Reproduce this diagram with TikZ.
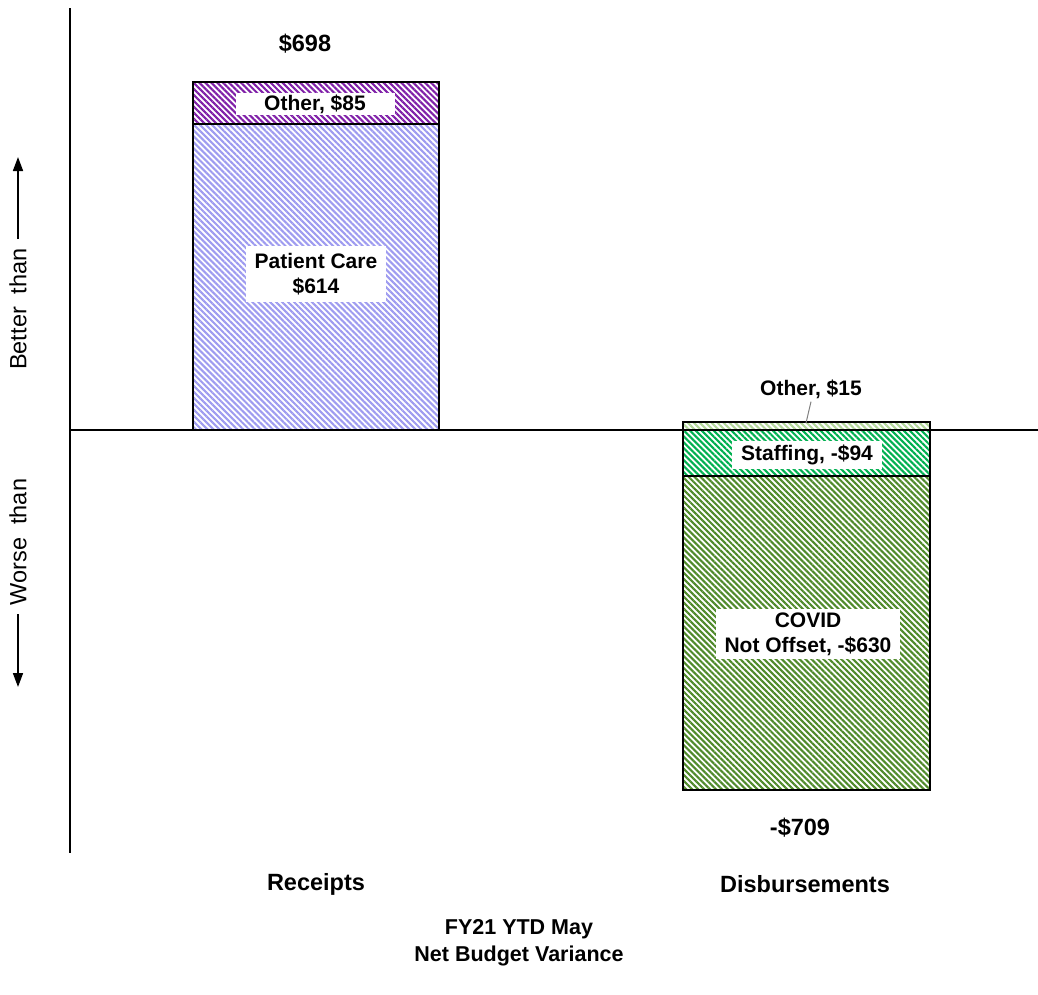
\documentclass[tikz,border=0pt]{standalone}
\usepackage{fontspec}
\setmainfont{Liberation Sans}
\usetikzlibrary{patterns.meta,arrows.meta}
\definecolor{cPurple}{HTML}{7F1FA8}
\definecolor{cBlue}{HTML}{9E9BF0}
\definecolor{cLightGreen}{HTML}{B2D69A}
\definecolor{cGreen}{HTML}{00B050}
\definecolor{cOlive}{HTML}{4F8A2A}
\tikzset{
  lbl/.style={font=\fontsize{23.5}{27}\selectfont\bfseries, align=center, inner sep=0pt},
  dlbl/.style={font=\fontsize{21}{25}\selectfont\bfseries, align=center, inner sep=0pt},
  wlbl/.style={dlbl, fill=white, inner xsep=9pt, inner ysep=4pt},
  axlbl/.style={font=\fontsize{23.5}{27}\selectfont, rotate=90, inner sep=0pt},
  barseg/.style={draw=black, line width=1.6pt},
  axis/.style={line width=1.6pt},
  hatch/.style={pattern={Lines[angle=-45,distance=4.2pt,line width=2.1pt]}, pattern color=#1},
}
\begin{document}
\begin{tikzpicture}[x=1pt,y=-1pt]
\useasboundingbox (0,0) rectangle (1038,994);
% axes
\coordinate (vtop) at (70,8);
\coordinate (vbot) at (70,853);
\coordinate (hl) at (70,430);
\coordinate (hr) at (1038,430);
% receipts bar
\filldraw[barseg, hatch=cBlue] (193,124) rectangle (439,430);
\filldraw[barseg, hatch=cPurple] (193,82) rectangle (439,124);
% disbursements bar
\filldraw[barseg, hatch=cOlive] (683,476) rectangle (930,790);
\filldraw[barseg, hatch=cGreen] (683,430) rectangle (930,476);
\filldraw[barseg, hatch=cLightGreen] (683,422) rectangle (930,430);
\draw[axis] (vtop) -- (vbot);
\draw[axis] (hl) -- (hr);
% labels
\node[lbl] (tot1) at (305,44) {\$698};
\node[wlbl, minimum width=159pt, minimum height=22pt, inner ysep=2pt] (oth1) at (315,104) {Other, \$85};
\node[wlbl, inner ysep=7pt] (pc) at (316,274) {Patient Care\\\$614};
\node[dlbl] (oth2) at (811,389) {Other, \$15};
\coordinate (oth2pt) at (806,423);
\draw[gray, line width=1pt] (oth2.south) ++(0,3) -- (oth2pt);
\node[wlbl] (staff) at (807,455) {Staffing, -\$94};
\node[wlbl] (covid) at (808,634) {COVID\\Not Offset, -\$630};
\node[lbl] (tot2) at (800,828) {-\$709};
\node[lbl] (rec) at (316,884) {Receipts};
\node[lbl] (dis) at (805,884) {Disbursements};
\node[dlbl, font=\fontsize{21.5}{27}\selectfont\bfseries] (title) at (519,943) {FY21 YTD May\\Net Budget Variance};
% side labels
\node[axlbl] (better) at (18,309) {Better\ \ than};
\node[axlbl] (worse) at (18,542) {Worse\ \ than};
\coordinate (upTip) at (18,157);
\coordinate (dnTip) at (18,687);
\draw[line width=1.6pt, -{Triangle[length=14pt,width=10pt]}] (better.east) ++(0,-9) -- (upTip);
\draw[line width=1.6pt, -{Triangle[length=14pt,width=10pt]}] (worse.west) ++(0,9) -- (dnTip);
\end{tikzpicture}
\end{document}
